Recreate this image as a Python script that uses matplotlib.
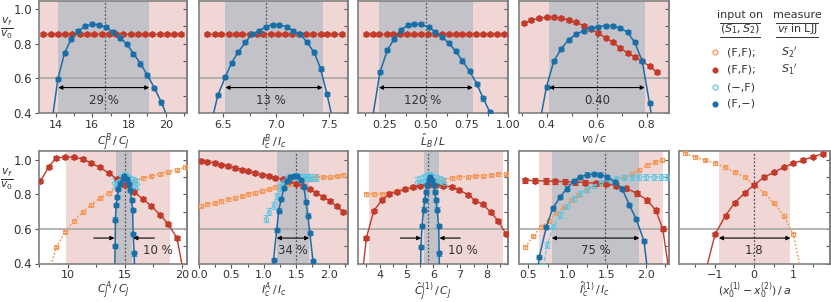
import matplotlib
matplotlib.use("Agg")
import matplotlib.pyplot as plt
from matplotlib.lines import Line2D
from matplotlib.ticker import MultipleLocator, AutoMinorLocator

plt.rcParams["font.family"] = ["DejaVu Sans"]
plt.rcParams["mathtext.fontset"] = "dejavusans"
plt.rcParams["font.size"] = 8

RED = "#c23a2a"
BLUE = "#1a6ea6"
ORANGE = "#f39a5c"
CYAN = "#5cc6e4"
PINK = "#f0d6d4"
GRAY = "#c3c2c9"
FRAME = "#808080"

# ---------------- data: top row ----------------
t1_red_x = [13.33, 13.73, 14.12, 14.52, 14.91, 15.31, 15.7, 16.1, 16.5, 16.89,
            17.29, 17.68, 18.08, 18.47, 18.87, 19.27, 19.66, 20.06, 20.45, 20.85]
t1_red_y = [0.855] * 20
t1_blue_x = [13.75, 14.13, 14.49, 14.85, 15.24, 15.62, 15.98, 16.36, 16.75, 17.13,
             17.49, 17.87, 18.24, 18.62, 19.0, 19.38, 19.76, 20.14]
t1_blue_y = [0.31, 0.598, 0.747, 0.827, 0.874, 0.903, 0.912, 0.909, 0.895, 0.867,
             0.836, 0.798, 0.743, 0.686, 0.617, 0.545, 0.461, 0.36]

t2_red_x = [6.35, 6.42, 6.48, 6.55, 6.62, 6.68, 6.75, 6.82, 6.88, 6.95,
            7.02, 7.08, 7.15, 7.22, 7.28, 7.35, 7.42, 7.48, 7.55, 7.62]
t2_red_y = [0.855] * 20
t2_blue_x = [6.38, 6.45, 6.52, 6.58, 6.64, 6.71, 6.77, 6.84, 6.90, 6.97,
             7.03, 7.10, 7.16, 7.23, 7.29, 7.36, 7.42, 7.48, 7.55]
t2_blue_y = [0.33, 0.505, 0.61, 0.691, 0.752, 0.808, 0.857, 0.874, 0.899, 0.910,
             0.910, 0.899, 0.876, 0.855, 0.810, 0.750, 0.657, 0.512, 0.32]

t3_red_x = [0.132, 0.174, 0.216, 0.259, 0.301, 0.343, 0.385, 0.427, 0.469, 0.511,
            0.554, 0.596, 0.638, 0.680, 0.722, 0.764, 0.807, 0.849, 0.891, 0.933, 0.975]
t3_red_y = [0.855] * 21
t3_blue_x = [0.17, 0.219, 0.264, 0.306, 0.347, 0.392, 0.426, 0.469, 0.516, 0.555,
             0.595, 0.640, 0.681, 0.721, 0.766, 0.809, 0.849, 0.890, 0.93]
t3_blue_y = [0.35, 0.636, 0.762, 0.829, 0.880, 0.909, 0.914, 0.912, 0.895, 0.870,
             0.840, 0.804, 0.756, 0.703, 0.642, 0.570, 0.484, 0.404, 0.30]

t4_red_x = [0.309, 0.339, 0.370, 0.400, 0.430, 0.459, 0.488, 0.519, 0.548, 0.577,
            0.607, 0.636, 0.665, 0.695, 0.724, 0.753, 0.783, 0.812, 0.841]
t4_red_y = [0.918, 0.937, 0.947, 0.952, 0.952, 0.947, 0.937, 0.924, 0.905, 0.884,
            0.861, 0.836, 0.808, 0.775, 0.747, 0.724, 0.699, 0.670, 0.636]
t4_blue_x = [0.37, 0.400, 0.429, 0.459, 0.488, 0.519, 0.548, 0.577, 0.607, 0.636,
             0.665, 0.695, 0.724, 0.753, 0.783, 0.812, 0.841]
t4_blue_y = [0.32, 0.552, 0.699, 0.771, 0.823, 0.855, 0.876, 0.890, 0.899, 0.903,
             0.903, 0.890, 0.867, 0.808, 0.699, 0.457, 0.20]

# ---------------- data: bottom row ----------------
b1_red_x = [7.62, 8.36, 9.02, 9.79, 10.52, 11.32, 12.03, 12.81, 13.59, 14.31,
            15.05, 15.83, 16.6, 17.33, 18.07, 18.79, 19.57, 20.4]
b1_red_y = [0.875, 0.960, 1.010, 1.014, 1.014, 1.004, 0.981, 0.956, 0.923, 0.889,
            0.854, 0.812, 0.773, 0.731, 0.683, 0.629, 0.547, 0.26]
b1_orange_x = [8.28, 9.02, 9.79, 10.52, 11.32, 12.03, 12.81, 13.59, 14.31, 15.05,
               15.83, 16.6, 17.33, 18.07, 18.79, 19.57, 20.3]
b1_orange_y = [0.33, 0.495, 0.582, 0.643, 0.697, 0.739, 0.778, 0.806, 0.835, 0.855,
               0.875, 0.893, 0.905, 0.918, 0.930, 0.942, 0.956]
b1_cyan_x = [14.1, 14.3, 14.5, 14.7, 14.9, 15.0, 15.1, 15.3, 15.5, 15.7, 15.9, 16.1]
b1_cyan_y = [0.865, 0.87, 0.875, 0.88, 0.89, 0.9, 0.89, 0.88, 0.875, 0.87, 0.865, 0.86]
b1_blue_x = [14.12, 14.16, 14.19, 14.25, 14.34, 14.45, 14.6, 14.83, 14.97, 15.2,
             15.37, 15.48, 15.6, 15.69, 15.74, 15.83, 15.88]
b1_blue_y = [0.30, 0.50, 0.654, 0.737, 0.785, 0.833, 0.862, 0.89, 0.904, 0.89,
             0.858, 0.824, 0.766, 0.708, 0.57, 0.458, 0.30]

b2_red_x = [0.03, 0.13, 0.24, 0.34, 0.45, 0.55, 0.66, 0.76, 0.87, 0.97, 1.08,
            1.18, 1.29, 1.39, 1.5, 1.6, 1.71, 1.81, 1.92, 2.02, 2.13, 2.23]
b2_red_y = [0.994, 0.988, 0.981, 0.972, 0.963, 0.953, 0.943, 0.933, 0.923, 0.914, 0.905,
            0.896, 0.886, 0.875, 0.862, 0.847, 0.829, 0.808, 0.785, 0.76, 0.73, 0.697]
b2_orange_x = b2_red_x
b2_orange_y = [0.735, 0.742, 0.75, 0.76, 0.77, 0.78, 0.79, 0.80, 0.81, 0.82, 0.83,
               0.84, 0.85, 0.86, 0.87, 0.88, 0.89, 0.897, 0.9, 0.902, 0.905, 0.91]
b2_cyan_x = [1.03, 1.08, 1.15, 1.2, 1.25, 1.3, 1.35, 1.4, 1.45, 1.5, 1.55, 1.6,
             1.65, 1.7, 1.75, 1.8]
b2_cyan_y = [0.658, 0.70, 0.737, 0.79, 0.84, 0.87, 0.885, 0.895, 0.9, 0.902, 0.9,
             0.9, 0.898, 0.897, 0.895, 0.895]
b2_blue_x = [1.12, 1.15, 1.20, 1.23, 1.27, 1.31, 1.36, 1.41, 1.46, 1.52, 1.58,
             1.62, 1.65, 1.68, 1.71, 1.76, 1.79]
b2_blue_y = [0.25, 0.42, 0.595, 0.706, 0.773, 0.835, 0.875, 0.899, 0.908, 0.904, 0.881,
             0.843, 0.756, 0.677, 0.576, 0.414, 0.25]

b3_red_x = [3.3, 3.51, 3.79, 4.10, 4.37, 4.66, 4.93, 5.23, 5.52, 5.83, 6.11, 6.38,
            6.69, 6.97, 7.28, 7.56, 7.84, 8.14, 8.42, 8.70]
b3_red_y = [0.25, 0.547, 0.706, 0.768, 0.802, 0.815, 0.828, 0.841, 0.85, 0.856, 0.856,
            0.85, 0.841, 0.825, 0.798, 0.764, 0.741, 0.697, 0.645, 0.572]
b3_orange_x = [3.51, 3.79, 4.10, 4.37, 4.66, 4.93, 5.23, 5.52, 5.83, 6.11, 6.38,
               6.69, 6.97, 7.28, 7.56, 7.84, 8.14, 8.42, 8.70]
b3_orange_y = [0.80, 0.80, 0.80, 0.81, 0.82, 0.83, 0.84, 0.85, 0.87, 0.88, 0.885,
               0.893, 0.898, 0.902, 0.905, 0.908, 0.912, 0.915, 0.918]
b3_cyan_x = [5.4, 5.5, 5.6, 5.7, 5.8, 5.85, 5.9, 6.0, 6.1, 6.2, 6.3, 6.4]
b3_cyan_y = [0.87, 0.875, 0.88, 0.885, 0.895, 0.9, 0.895, 0.885, 0.88, 0.875, 0.87, 0.865]
b3_blue_x = [5.52, 5.54, 5.58, 5.64, 5.68, 5.73, 5.77, 5.83, 5.89, 5.95, 6.01,
             6.05, 6.10, 6.14, 6.20, 6.22, 6.24]
b3_blue_y = [0.25, 0.497, 0.616, 0.712, 0.766, 0.814, 0.852, 0.881, 0.90, 0.881, 0.852,
             0.814, 0.766, 0.712, 0.616, 0.458, 0.25]

b4_red_x = [0.46, 0.59, 0.72, 0.84, 0.97, 1.10, 1.23, 1.36, 1.49, 1.62, 1.75,
            1.89, 2.02, 2.13, 2.22, 2.35]
b4_red_y = [0.881, 0.879, 0.877, 0.875, 0.873, 0.871, 0.868, 0.864, 0.86, 0.85, 0.835,
            0.805, 0.766, 0.708, 0.60, 0.20]
b4_orange_x = [0.46, 0.56, 0.66, 0.76, 0.85, 0.95, 1.05, 1.14, 1.24, 1.34, 1.43,
               1.53, 1.62, 1.72, 1.83, 1.92, 2.02, 2.12, 2.21]
b4_orange_y = [0.493, 0.559, 0.612, 0.647, 0.689, 0.727, 0.766, 0.798, 0.824, 0.847,
               0.858, 0.866, 0.881, 0.90, 0.919, 0.942, 0.968, 0.987, 1.0]
b4_cyan_x = [0.69, 0.74, 0.82, 0.91, 0.99, 1.08, 1.16, 1.25, 1.34, 1.43, 1.53,
             1.62, 1.72, 1.82, 1.91, 2.01, 2.11, 2.2, 2.28]
b4_cyan_y = [0.38, 0.507, 0.612, 0.68, 0.73, 0.775, 0.805, 0.83, 0.85, 0.87, 0.88,
             0.89, 0.895, 0.9, 0.9, 0.9, 0.9, 0.9, 0.9]
b4_blue_x = [0.60, 0.64, 0.73, 0.81, 0.91, 0.99, 1.08, 1.16, 1.25, 1.34, 1.42,
             1.51, 1.61, 1.70, 1.79, 1.88, 1.98, 2.04]
b4_blue_y = [0.30, 0.44, 0.612, 0.718, 0.785, 0.833, 0.875, 0.90, 0.914, 0.916, 0.914,
             0.90, 0.871, 0.833, 0.740, 0.657, 0.53, 0.30]

b5_red_x = [-1.3, -1.0, -0.73, -0.5, -0.24, 0.0, 0.26, 0.50, 0.76, 1.0, 1.26, 1.50, 1.75]
b5_red_y = [0.30, 0.568, 0.677, 0.75, 0.808, 0.854, 0.899, 0.927, 0.956, 0.979,
            0.998, 1.017, 1.033]
b5_orange_x = [-1.76, -1.51, -1.25, -0.99, -0.74, -0.50, -0.24, 0.0, 0.26, 0.50,
               0.76, 1.0, 1.25]
b5_orange_y = [1.037, 1.014, 0.998, 0.979, 0.956, 0.927, 0.899, 0.854, 0.808, 0.75,
               0.677, 0.568, 0.30]

W, H = 831, 302
fig = plt.figure(figsize=(W / 100, H / 100), dpi=100)

cols = [(39, 187), (199, 348), (358, 508), (519, 669), (679, 830)]
rows = [(0.5, 113), (151, 263.5)]
label_top = [132, 280]   # pixel top of the x labels per row


def make_ax(col, row):
    x0, x1 = cols[col]
    y0, y1 = rows[row]
    return fig.add_axes([x0 / W, 1 - y1 / H, (x1 - x0) / W, (y1 - y0) / H])


def style(ax, row, first, xlim, major, xlabel):
    ax.set_xlim(*xlim)
    ax.set_ylim(0.4, 1.05)
    for s in ax.spines.values():
        s.set_color(FRAME)
        s.set_linewidth(1.2)
    ax.xaxis.set_major_locator(MultipleLocator(major))
    ax.xaxis.set_minor_locator(AutoMinorLocator(2))
    ax.tick_params(axis="x", which="both", direction="out", colors="#555555",
                   labelcolor="#333333", length=3, width=0.8, pad=2, labelsize=8)
    ax.tick_params(axis="x", which="minor", length=2)
    ax.yaxis.set_major_locator(MultipleLocator(0.2))
    ax.yaxis.set_minor_locator(MultipleLocator(0.1))
    if first:
        ax.tick_params(axis="y", which="both", direction="out", left=True, right=False,
                       colors="#555555", labelcolor="#333333", length=3, width=0.8,
                       labelsize=8.5, pad=2)
        ax.tick_params(axis="y", which="minor", length=0)
    else:
        ax.tick_params(axis="y", which="both", left=False, labelleft=False)
    sec = ax.secondary_yaxis("right")
    sec.yaxis.set_major_locator(MultipleLocator(0.1))
    sec.tick_params(axis="y", direction="in", length=3, width=0.8, colors="#555555",
                    labelright=False)
    sec.spines["right"].set_color(FRAME)
    sec.spines["right"].set_linewidth(1.2)
    y0, y1 = rows[row]
    ax.text(0.5, -(label_top[row] - y1) / (y1 - y0), xlabel, transform=ax.transAxes,
            ha="center", va="top", fontsize=7.8, color="#333333")


def backdrop(ax, pink, gray, center):
    ax.axvspan(pink[0], pink[1], color=PINK, lw=0, zorder=0)
    if gray is not None:
        ax.axvspan(gray[0], gray[1], color=GRAY, lw=0, zorder=0.5)
    ax.axhline(0.6, color="#a8a8a8", lw=1.2, zorder=1)
    ax.axvline(center, color="#555555", lw=0.9, ls=(0, (1.5, 1.5)), zorder=1)


def span_arrow(ax, a, b, label, tx=None):
    ax.annotate("", xy=(b, 0.547), xytext=(a, 0.547),
                arrowprops=dict(arrowstyle="<|-|>", color="black", lw=0.8,
                                mutation_scale=6, shrinkA=0, shrinkB=0), zorder=6)
    ax.text((a + b) / 2 if tx is None else tx, 0.475, label, ha="center", va="center",
            fontsize=8.5, color="#333333", zorder=6)


def inward_arrows(ax, l0, l1, r0, r1, tx):
    for s, e in ((l0, l1), (r0, r1)):
        ax.annotate("", xy=(e, 0.547), xytext=(s, 0.547),
                    arrowprops=dict(arrowstyle="-|>", color="black", lw=0.8,
                                    mutation_scale=6, shrinkA=0, shrinkB=0), zorder=6)
    ax.text(tx, 0.475, "10 %", ha="left", va="center", fontsize=8.5, color="#333333",
            zorder=6)


def red(ax, x, y, err=0.01):
    ax.errorbar(x, y, yerr=err, color=RED, lw=1.0, marker="h", ms=4, mec=RED,
                capsize=2, elinewidth=0.8, capthick=0.8, zorder=4)


def blue(ax, x, y, err=0.012):
    ax.errorbar(x, y, yerr=err, color=BLUE, lw=1.1, marker="o", ms=3.4, mec=BLUE,
                ecolor="#4f9ac8", capsize=2.2, elinewidth=0.8, capthick=0.8, zorder=5)


def orange(ax, x, y, err=0.008):
    ax.errorbar(x, y, yerr=err, color=ORANGE, lw=1.1, ls=(0, (1.2, 1.2)), marker="s",
                ms=3, mfc="none", mec=ORANGE, mew=0.8, capsize=1.8, elinewidth=0.7,
                capthick=0.7, zorder=3)


def cyan(ax, x, y, err=0.02):
    ax.errorbar(x, y, yerr=err, color=CYAN, lw=1.0, ls=(0, (3, 1.5)), marker="o",
                ms=3, mfc="none", mec=CYAN, mew=0.8, ecolor=CYAN, capsize=2.5,
                elinewidth=0.8, capthick=0.8, alpha=0.85, zorder=4)


# ---------------- top row ----------------
ax = make_ax(0, 0)
backdrop(ax, (13.1, 21.15), (14.15, 19.1), 16.7)
red(ax, t1_red_x, t1_red_y)
blue(ax, t1_blue_x, t1_blue_y)
span_arrow(ax, 14.15, 19.1, "29 %")
style(ax, 0, True, (13.1, 21.15), 2, r"$C_J^B\,/\,C_J$")

ax = make_ax(1, 0)
backdrop(ax, (6.27, 7.68), (6.52, 7.44), 6.90)
red(ax, t2_red_x, t2_red_y)
blue(ax, t2_blue_x, t2_blue_y)
span_arrow(ax, 6.52, 7.44, "13 %", tx=6.95)
style(ax, 0, False, (6.27, 7.68), 0.5, r"$I_c^B\,/\,I_c$")

ax = make_ax(2, 0)
backdrop(ax, (0.085, 1.0), (0.213, 0.785), 0.5)
red(ax, t3_red_x, t3_red_y)
blue(ax, t3_blue_x, t3_blue_y)
span_arrow(ax, 0.213, 0.785, "120 %", tx=0.48)
style(ax, 0, False, (0.085, 1.0), 0.25, r"$\hat{L}_B\,/\,L$")

ax = make_ax(3, 0)
backdrop(ax, (0.29, 0.89), (0.41, 0.793), 0.6)
red(ax, t4_red_x, t4_red_y)
blue(ax, t4_blue_x, t4_blue_y)
span_arrow(ax, 0.41, 0.793, "0.40")
style(ax, 0, False, (0.29, 0.89), 0.2, r"$v_0\,/\,c$")

# ---------------- bottom row ----------------
ax = make_ax(0, 1)
backdrop(ax, (9.9, 19.0), (14.22, 15.66), 15.0)
orange(ax, b1_orange_x, b1_orange_y)
red(ax, b1_red_x, b1_red_y)
cyan(ax, b1_cyan_x, b1_cyan_y, err=0.03)
blue(ax, b1_blue_x, b1_blue_y)
inward_arrows(ax, 12.3, 14.1, 17.6, 15.75, 16.6)
style(ax, 1, True, (7.5, 20.45), 5, r"$C_J^A\,/\,C_J$")

ax = make_ax(1, 1)
backdrop(ax, (0.0, 2.3), (1.2, 1.70), 1.49)
orange(ax, b2_orange_x, b2_orange_y)
red(ax, b2_red_x, b2_red_y)
cyan(ax, b2_cyan_x, b2_cyan_y)
blue(ax, b2_blue_x, b2_blue_y)
span_arrow(ax, 1.2, 1.70, "34 %")
style(ax, 1, False, (0.0, 2.3), 0.5, r"$I_c^A\,/\,I_c$")

ax = make_ax(2, 1)
backdrop(ax, (3.62, 8.59), (5.65, 6.22), 5.81)
orange(ax, b3_orange_x, b3_orange_y)
red(ax, b3_red_x, b3_red_y)
cyan(ax, b3_cyan_x, b3_cyan_y, err=0.03)
blue(ax, b3_blue_x, b3_blue_y)
inward_arrows(ax, 4.78, 5.55, 7.0, 6.23, 6.55)
style(ax, 1, False, (3.2, 8.78), 1, r"$\hat{C}_J^{(1)}\,/\,C_J$")

ax = make_ax(3, 1)
backdrop(ax, (0.64, 2.22), (0.80, 1.92), 1.48)
orange(ax, b4_orange_x, b4_orange_y)
red(ax, b4_red_x, b4_red_y, err=0.015)
cyan(ax, b4_cyan_x, b4_cyan_y, err=0.015)
blue(ax, b4_blue_x, b4_blue_y)
span_arrow(ax, 0.80, 1.92, "75 %")
style(ax, 1, False, (0.38, 2.30), 0.5, r"$\hat{I}_c^{(1)}\,/\,I_c$")

ax = make_ax(4, 1)
backdrop(ax, (-0.9, 0.93), None, 0.0)
orange(ax, b5_orange_x, b5_orange_y)
red(ax, b5_red_x, b5_red_y)
span_arrow(ax, -0.9, 0.93, "1.8", tx=0.0)
style(ax, 1, False, (-1.92, 1.94), 1, r"$(x_0^{(1)}-x_0^{(2)})\,/\,a$")

# y labels
for yc in (28, 179):
    fig.text(7 / W, 1 - yc / H, r"$\frac{v_f}{v_0}$", fontsize=11, color="#333333",
             ha="center", va="center")


# legend block
def fx(p):
    return p / W


def fy(p):
    return 1 - p / H


fig.text(fx(740), fy(15), "input on", ha="center", va="center", fontsize=8, color="#333333")
fig.text(fx(740), fy(29), r"$(S_1,S_2)$", ha="center", va="center", fontsize=8, color="#333333")
fig.text(fx(797), fy(15), "measure", ha="center", va="center", fontsize=8, color="#333333")
fig.text(fx(797), fy(29), r"$v_f$ in LJJ", ha="center", va="center", fontsize=8, color="#333333")
for x0, x1 in ((720, 760), (776, 818)):
    for yy in (22.5, 37):
        fig.add_artist(Line2D([fx(x0), fx(x1)], [fy(yy), fy(yy)], color="#333333", lw=0.7))

leg_rows = [
    (52.5, ORANGE, "none", "(F,F);", r"$S_2{}'$"),
    (70, RED, RED, "(F,F);", r"$S_1{}'$"),
    (87.3, CYAN, "none", "(\u2212,F)", ""),
    (104, BLUE, BLUE, "(F,\u2212)", ""),
]
for yy, c, fc, lab, meas in leg_rows:
    fig.add_artist(Line2D([fx(715)], [fy(yy)], marker="o", ms=3.5, mec=c, mfc=fc,
                          mew=0.9, ls="none"))
    fig.text(fx(727), fy(yy), lab, ha="left", va="center", fontsize=8, color="#333333")
    if meas:
        fig.text(fx(781), fy(yy), meas, ha="left", va="center", fontsize=8, color="#333333")

fig.savefig("out.png", dpi=100)
